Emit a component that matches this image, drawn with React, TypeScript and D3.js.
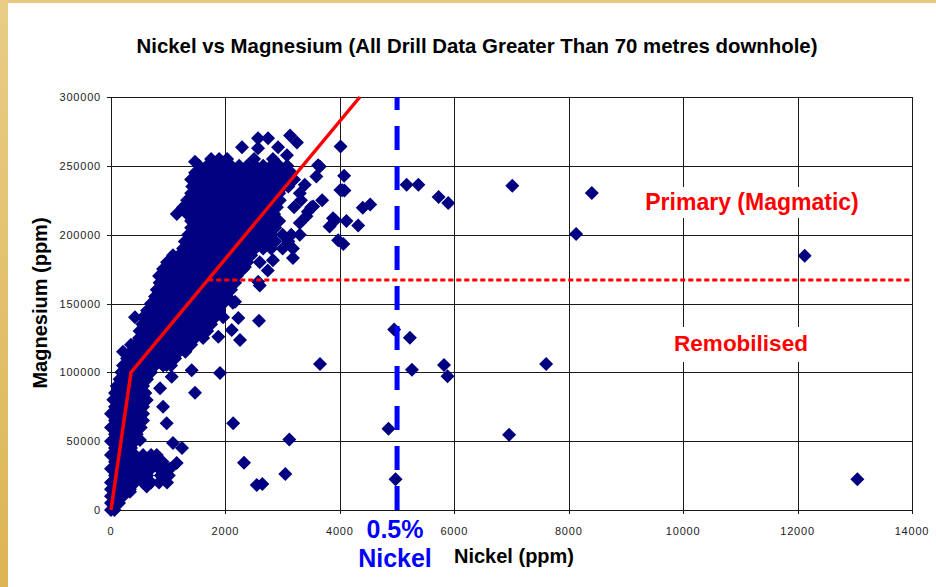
import React from 'react'
import * as d3 from 'd3'

// axis ticks
const xTicks = [0, 2000, 4000, 6000, 8000, 10000, 12000, 14000]
const yTicks = [0, 50000, 100000, 150000, 200000, 250000, 300000]

// dense cluster, read row by row: [Mg, Ni values]
const lowerRows: [number, number[]][] = [
  [0, [0, 60]],
  [5000, [0, 70, 140]],
  [10000, [0, 140, 210]],
  [15000, [0, 70, 210, 280, 330]],
  [20000, [0, 140, 280, 420, 560, 700, 840, 980]],
  [25000, [70, 210, 350, 490, 630, 870, 1010]],
  [30000, [0, 140, 280, 420, 560, 700, 840, 980, 1030]],
  [35000, [70, 210, 350, 490, 630, 770, 900]],
  [40000, [0, 140, 280, 420, 560, 700, 800]],
  [45000, [70, 210, 350]],
  [50000, [0, 140, 280, 420]],
  [55000, [70, 210, 350, 450]],
  [60000, [0, 140, 280, 420, 520]],
  [65000, [70, 210, 350, 490, 560]],
  [70000, [0, 140, 280, 420, 560]],
  [75000, [70, 210, 350, 490, 560]],
  [80000, [40, 140, 280, 420, 560]],
  [85000, [70, 210, 350, 490, 600]],
  [90000, [100, 140, 280, 420, 560]],
  [95000, [150, 210, 350, 490, 630]],
  [100000, [180, 280, 420, 560, 700]],
]

const upperRows: [number, number[]][] = [
  [105000, [210, 350, 490, 630, 770, 910, 1050]],
  [110000, [280, 420, 560, 700, 840, 980, 1120]],
  [115000, [210, 350, 490, 630, 770, 910, 1050, 1190, 1300]],
  [120000, [350, 420, 560, 700, 840, 980, 1120, 1260, 1400]],
  [125000, [490, 630, 770, 910, 1050, 1190, 1330, 1470, 1610]],
  [130000, [500, 560, 700, 840, 980, 1120, 1260, 1400, 1540, 1680]],
  [135000, [550, 630, 770, 910, 1050, 1190, 1330, 1470, 1610, 1750]],
  [140000, [420, 560, 700, 840, 980, 1120, 1260, 1400, 1540, 1680, 1820, 1960]],
  [145000, [630, 770, 910, 1050, 1190, 1330, 1470, 1610, 1750, 1890]],
  [150000, [700, 840, 980, 1120, 1260, 1400, 1540, 1680, 1820, 1960]],
  [155000, [770, 910, 1050, 1190, 1330, 1470, 1610, 1750, 1890, 2030]],
  [160000, [800, 840, 980, 1120, 1260, 1400, 1540, 1680, 1820, 1960, 2100]],
  [165000, [850, 910, 1050, 1190, 1330, 1470, 1610, 1750, 1890, 2030, 2170]],
  [170000, [840, 980, 1120, 1260, 1400, 1540, 1680, 1820, 1960, 2100, 2200]],
  [175000, [910, 1050, 1190, 1330, 1470, 1610, 1750, 1890, 2030, 2170, 2310]],
  [180000, [980, 1120, 1260, 1400, 1540, 1680, 1820, 1960, 2100, 2240, 2380]],
  [185000, [1084, 1190, 1330, 1470, 1610, 1750, 1890, 2030, 2170, 2310, 2450]],
  [190000, [1260, 1400, 1540, 1680, 1820, 1960, 2100, 2240, 2380, 2520, 2660, 2800, 3000, 3180]],
  [195000, [1290, 1330, 1470, 1610, 1750, 1890, 2030, 2170, 2310, 2450, 2590, 2730, 2870, 3100]],
  [200000, [1350, 1400, 1540, 1680, 1820, 1960, 2100, 2240, 2380, 2520, 2660, 2800, 3000, 3150, 3300]],
  [205000, [1400, 1470, 1610, 1750, 1890, 2030, 2170, 2310, 2450, 2590, 2730, 2870]],
  [210000, [1400, 1540, 1680, 1820, 1960, 2100, 2240, 2380, 2520, 2660, 2800, 2940]],
  [215000, [1150, 1330, 1470, 1610, 1750, 1890, 2030, 2170, 2310, 2450, 2590, 2730, 2850]],
  [220000, [1260, 1400, 1540, 1680, 1820, 1960, 2100, 2240, 2380, 2520, 2660, 2800, 2900, 3200, 3500]],
  [225000, [1330, 1470, 1610, 1750, 1890, 2030, 2170, 2310, 2450, 2590, 2730, 2870, 2950, 3320]],
  [230000, [1400, 1540, 1680, 1820, 1960, 2100, 2240, 2380, 2520, 2660, 2800, 2940, 3300]],
  [235000, [1420, 1470, 1610, 1750, 1890, 2030, 2170, 2310, 2450, 2590, 2730, 2870, 3010, 3100]],
  [240000, [1400, 1540, 1680, 1820, 1960, 2100, 2240, 2380, 2520, 2660, 2800, 2940, 3080, 3200]],
  [245000, [1470, 1610, 1750, 1890, 2030, 2170, 2310, 2450, 2590, 2730, 2870, 3010, 3150]],
  [250000, [1540, 1680, 1820, 1960, 2100, 2240, 2380, 2520, 2660, 2800, 2940, 3080]],
  [255000, [1750, 1890, 2030, 2500, 2830]],
]

// scattered points: [Ni, Mg]
const outliers: [number, number][] = [
  [2570, 270000], [2745, 270000], [3130, 272000], [3250, 267000], [2290, 263500],
  [2570, 262800], [2920, 263500], [3075, 257700], [1468, 252900],
  [4012, 264000], [4075, 242800], [4010, 232500], [4080, 232000], [3650, 249500],
  [3620, 250500], [3590, 242200], [3387, 236200], [3690, 225000], [3533, 220500],
  [3440, 216600], [3416, 213300], [3300, 208500], [3915, 210500], [4040, 232300],
  [3970, 196000], [4060, 193300], [4400, 219500], [4530, 222000], [4320, 206600],
  [4115, 210000], [3880, 212000], [3820, 206000],
  [2600, 180000], [2830, 181500], [3180, 183000], [2740, 174000], [2340, 176500],
  [2572, 165800], [2600, 163000], [2168, 151200], [2130, 150500],
  [2587, 137400], [2225, 139400], [2110, 130700], [2255, 123400], [1876, 125800],
  [1905, 99500], [1410, 101600], [1061, 96800], [973, 105300], [3653, 106000],
  [1468, 85200], [857, 88500], [624, 79900], [910, 75000], [973, 63100],
  [507, 50800], [1084, 48600], [1241, 45000], [1148, 34100], [624, 17000], [332, 13300],
  [2136, 63100], [3117, 51300], [2325, 34400], [3047, 26100], [2547, 18200], [2645, 18900],
  [5167, 236300], [5372, 236300], [5726, 227300], [5894, 223000], [7014, 235500],
  [8404, 230200], [8130, 200400], [12124, 184600],
  [4950, 131200], [5224, 125100], [5260, 101900], [5820, 105300], [5882, 97100],
  [7605, 106000], [4850, 59000], [6958, 54600], [4974, 22400], [13045, 22400],
]

// hand-drawn trend line and boundaries
const trendNi = [0, 350, 4350]
const trendMg = [0, 100000, 300000]
const boundaryMg = 167000
const boundaryStartNi = 1700
const cutoffNi = 5000

const FONT = "'Liberation Sans', Arial, Helvetica, sans-serif"

export default function App() {
  const x = d3.scaleLinear().domain([0, 14000]).range([111, 912])
  const y = d3.scaleLinear().domain([0, 300000]).range([510, 97])
  const crisp = (v: number) => Math.round(v) + 0.5

  const points: [number, number][] = [
    ...lowerRows.flatMap(([mg, nis]) => nis.map(ni => [ni, mg] as [number, number])),
    ...upperRows.flatMap(([mg, nis]) => nis.map(ni => [ni, mg] as [number, number])),
    ...outliers,
  ]

  const trend = d3.line<number>()
    .x((_, i) => x(trendNi[i]))
    .y((_, i) => y(trendMg[i]))(trendNi)

  const r = 7
  const diamond = `M0,${-r}L${r},0L0,${r}L${-r},0Z`

  const [x0, x1] = x.range()
  const [y0, y1] = y.range()

  return (
    <svg width={936} height={587} style={{ position: 'absolute', left: 0, top: 0, background: '#fff' }} fontFamily={FONT}>
      <defs>
        <linearGradient id="edge" x1="0" y1="0" x2="0" y2="1">
          <stop offset="0%" stopColor="#e9cd86" />
          <stop offset="100%" stopColor="#dcb554" />
        </linearGradient>
      </defs>
      <rect x={0} y={0} width={936} height={587} fill="#fff" />
      <rect x={0} y={0} width={936} height={3} fill="#e7c87c" />
      <rect x={0} y={0} width={8} height={587} fill="url(#edge)" />

      <text x={477} y={53} textAnchor="middle" fontSize={20.4} fontWeight="bold" fill="#000">
        Nickel vs Magnesium (All Drill Data Greater Than 70 metres downhole)
      </text>

      {/* grid */}
      <g stroke="#1a1a1a" strokeWidth={1} shapeRendering="crispEdges">
        {yTicks.map(t => (
          <line key={'h' + t} x1={x0 - 4} x2={x1} y1={crisp(y(t))} y2={crisp(y(t))} />
        ))}
        {xTicks.map(t => (
          <line key={'v' + t} x1={crisp(x(t))} x2={crisp(x(t))} y1={y1} y2={y0 + 4} />
        ))}
      </g>

      <g fontSize={11} fill="#222" letterSpacing={0.8}>
        {yTicks.map(t => (
          <text key={'yl' + t} x={101} y={y(t) + 4} textAnchor="end">{t}</text>
        ))}
        {xTicks.map(t => (
          <text key={'xl' + t} x={x(t)} y={535} textAnchor="middle">{t}</text>
        ))}
      </g>

      {/* data */}
      <g fill="#000080">
        {points.map((p, i) => (
          <path key={i} d={diamond} transform={`translate(${x(p[0])},${y(p[1])})`} />
        ))}
      </g>

      {/* annotations */}
      <line x1={x(cutoffNi)} x2={x(cutoffNi)} y1={y0} y2={y1} stroke="#0000ff" strokeWidth={5} strokeDasharray="24 16" />
      <line x1={x(boundaryStartNi)} x2={x1} y1={y(boundaryMg)} y2={y(boundaryMg)} stroke="#ff0000" strokeWidth={3} strokeDasharray="5 3" />
      <path d={trend || ''} fill="none" stroke="#ff0000" strokeWidth={3.5} strokeLinejoin="round" />

      <rect x={640} y={187} width={224} height={31} fill="#fff" />
      <text x={752} y={210} textAnchor="middle" fontSize={23} fontWeight="bold" fill="#ff0000">Primary (Magmatic)</text>
      <rect x={668} y={327} width={146} height={35} fill="#fff" />
      <text x={741} y={351} textAnchor="middle" fontSize={22.5} fontWeight="bold" fill="#ff0000">Remobilised</text>

      <text x={395} y={538} textAnchor="middle" fontSize={25} fontWeight="bold" fill="#0000ff">0.5%</text>
      <text x={395} y={567} textAnchor="middle" fontSize={25} fontWeight="bold" fill="#0000ff">Nickel</text>
      <text x={454} y={563} fontSize={20} fontWeight="bold" fill="#000">Nickel (ppm)</text>

      <text transform="translate(47,303) rotate(-90)" textAnchor="middle" fontSize={20} fontWeight="bold" fill="#000">
        Magnesium (ppm)
      </text>
    </svg>
  )
}
